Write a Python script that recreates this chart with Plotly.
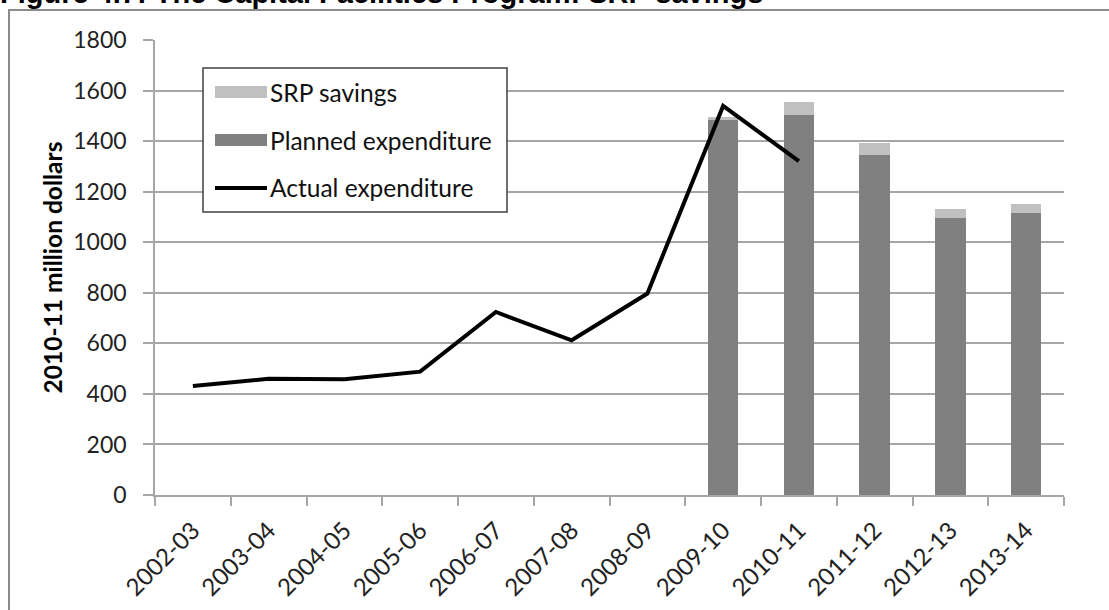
import plotly.graph_objects as go

categories = ["2002-03", "2003-04", "2004-05", "2005-06", "2006-07", "2007-08",
              "2008-09", "2009-10", "2010-11", "2011-12", "2012-13", "2013-14"]
planned = [None, None, None, None, None, None, None, 1483, 1503, 1347, 1095, 1114]
savings = [None, None, None, None, None, None, None, 14, 51, 44, 35, 36]
actual = [431, 460, 458, 488, 724, 612, 797, 1539, 1321, None, None, None]

W, H = 1109, 610
L, R, T, B = 155, 45, 40, 115
pw, ph = W - L - R, H - T - B

def px(x):
    return (x - L) / pw

def py(y):
    return (H - B - y) / ph

font_main = "Lato, 'Open Sans', sans-serif"
grid = "#a6a6a6"

fig = go.Figure()
fig.add_trace(go.Bar(x=categories, y=planned, name="Planned expenditure",
                     marker=dict(color="#808080", line=dict(width=0)), width=0.4))
fig.add_trace(go.Bar(x=categories, y=savings, name="SRP savings",
                     marker=dict(color="#c0c0c0", line=dict(width=0)), width=0.4))
fig.add_trace(go.Scatter(x=categories, y=actual, name="Actual expenditure", mode="lines",
                         line=dict(color="#000000", width=4), connectgaps=False))

shapes = []
annotations = []
# outer frame
shapes.append(dict(type="rect", xref="paper", yref="paper",
                   x0=px(9), x1=px(1125), y0=py(625), y1=py(10),
                   line=dict(color="#8c8c8c", width=2), fillcolor="rgba(0,0,0,0)", layer="below"))
# legend box
shapes.append(dict(type="rect", xref="paper", yref="paper",
                   x0=px(203), x1=px(507), y0=py(212), y1=py(68),
                   line=dict(color="#404040", width=1.5), fillcolor="white", layer="above"))
leg = [("SRP savings", "#c0c0c0", "bar", 92),
       ("Planned expenditure", "#808080", "bar", 140),
       ("Actual expenditure", "#000000", "line", 188)]
for text, col, kind, yc in leg:
    if kind == "bar":
        shapes.append(dict(type="rect", xref="paper", yref="paper",
                           x0=px(215), x1=px(267), y0=py(yc + 6), y1=py(yc - 6),
                           line=dict(width=0), fillcolor=col, layer="above"))
    else:
        shapes.append(dict(type="line", xref="paper", yref="paper",
                           x0=px(215), x1=px(267), y0=py(yc), y1=py(yc),
                           line=dict(color=col, width=4), layer="above"))
    annotations.append(dict(text=text, xref="paper", yref="paper", x=px(268), y=py(yc),
                            xanchor="left", yanchor="middle", showarrow=False,
                            font=dict(family=font_main, size=24.5, color="#111111")))

annotations.append(dict(text="<b>Figure 4.7: The Capital Facilities Program: SRP savings</b>",
                        xref="paper", yref="paper", x=px(-2), y=py(-7),
                        xanchor="left", yanchor="middle", showarrow=False,
                        font=dict(family="'Liberation Sans', Arial, sans-serif", size=29, color="#000000")))

fig.update_layout(
    width=W, height=H,
    margin=dict(l=L, r=R, t=T, b=B, autoexpand=False),
    paper_bgcolor="white", plot_bgcolor="white",
    barmode="stack", showlegend=False,
    shapes=shapes, annotations=annotations,
    font=dict(family=font_main, size=22, color="#222222"),
    xaxis=dict(type="category", categoryorder="array", categoryarray=categories,
               range=[-0.5, 11.5], tickson="boundaries", ticks="outside", ticklen=9,
               tickcolor=grid, tickwidth=1.5, showline=True, linecolor=grid, linewidth=1.5,
               showgrid=False, tickangle=-45, tickfont=dict(size=24), ticklabelstandoff=10,
               automargin=False),
    yaxis=dict(range=[0, 1800], dtick=200, tick0=0, ticks="outside", ticklen=10,
               tickcolor=grid, tickwidth=1.5, showline=True, linecolor=grid, linewidth=1.5,
               showgrid=True, gridcolor=grid, gridwidth=1.5, zeroline=False,
               tickfont=dict(size=23), ticklabelstandoff=12, automargin=False,
               title=dict(text="<b>2010-11 million dollars</b>", standoff=4,
                          font=dict(size=24.5, color="#000000"))),
)

fig.write_html("out.html", config={"displayModeBar": False},
               post_script="document.body.style.margin='0';document.body.style.overflow='hidden';")
